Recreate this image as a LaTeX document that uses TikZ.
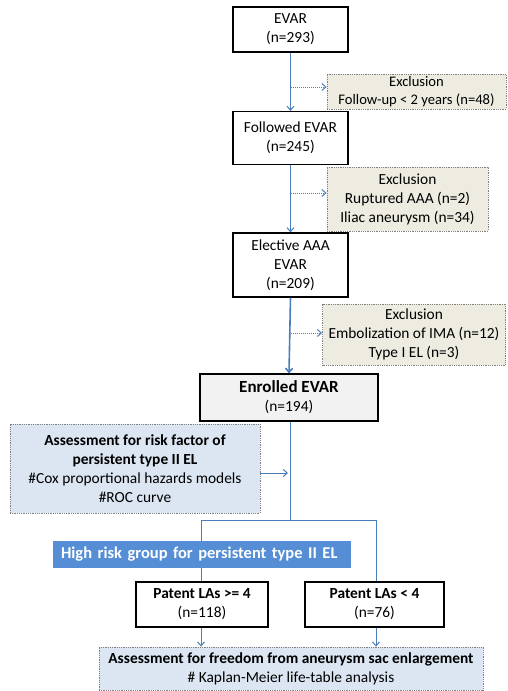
\documentclass[tikz,border=0pt]{standalone}
\usepackage{fontspec}
\setmainfont{Carlito}
\usetikzlibrary{arrows.meta}
\definecolor{ln}{HTML}{4A7EBB}
\definecolor{beige}{HTML}{EEECE1}
\definecolor{lblue}{HTML}{DCE6F2}
\definecolor{band}{HTML}{558ED5}
\tikzset{
  box/.style={draw=black, line width=1.2pt, fill=white, align=center, inner sep=0pt, font=\fontsize{15.4}{19}\selectfont},
  excl/.style={draw=gray, densely dotted, line width=0.8pt, fill=beige, align=center, inner sep=0pt, font=\fontsize{15.4}{19}\selectfont},
  bluebox/.style={draw=gray, densely dotted, line width=0.8pt, fill=lblue, align=center, inner sep=0pt, font=\fontsize{15.4}{19}\selectfont},
  conn/.style={draw=ln, line width=1pt, -{Straight Barb[length=4pt,width=7pt]}},
  dconn/.style={draw=ln, line width=1pt, densely dotted, -{Straight Barb[length=4pt,width=7pt]}},
  plain/.style={draw=ln, line width=1pt},
}
\begin{document}
\begin{tikzpicture}[x=1pt,y=-1pt]
\fill[white] (0,0) rectangle (507,691);
\useasboundingbox (0,0) rectangle (507,691);
% main column
\node[box, minimum width=115pt, minimum height=45pt] (evar) at (290.5,29.5) {EVAR\\(n=293)};
\node[box, minimum width=115pt, minimum height=53pt] (fol) at (290.5,138) {Followed EVAR\\(n=245)};
\node[box, minimum width=115pt, minimum height=64pt] (ele) at (290.5,265) {Elective AAA\\EVAR\\(n=209)};
\node[box, fill=black!5, minimum width=178pt, minimum height=47pt] (enr) at (289,397.5) {{\fontsize{17}{21}\selectfont\bfseries Enrolled EVAR}\\(n=194)};
% exclusions
\node[excl, font=\fontsize{14.6}{18}\selectfont, minimum width=179pt, minimum height=35pt] (ex1) at (416.5,91.5) {Exclusion\\Follow-up < 2 years (n=48)};
\node[excl, minimum width=161pt, minimum height=64pt] (ex2) at (407.5,199) {Exclusion\\Ruptured AAA (n=2)\\Iliac aneurysm (n=34)};
\node[excl, minimum width=183pt, minimum height=61pt] (ex3) at (414,334.5) {Exclusion\\Embolization of IMA (n=12)\\Type I EL (n=3)};
% main arrows
\draw[conn] (evar.south) -- (fol.north);
\draw[conn] (fol.south) -- (ele.north);
\draw[conn, line width=1.6pt] (ele.south) -- (enr.north);
\coordinate (d1) at (291,87);
\coordinate (d2) at (291,193);
\coordinate (d3) at (291,333);
\draw[dconn] (d1) -- (ex1.west |- d1);
\draw[dconn] (d2) -- (ex2.west |- d2);
\draw[dconn] (d3) -- (ex3.west |- d3);
% assessment
\node[bluebox, minimum width=250pt, minimum height=89pt] (as1) at (135,468.5) {{\bfseries Assessment for risk factor of}\\{\bfseries persistent type II EL}\\\#Cox proportional hazards models\\\#ROC curve};
\coordinate (sp) at (290,520);
\coordinate (spl) at (201,520);
\coordinate (spr) at (376,520);
\draw[plain] (enr.south -| sp) -- (sp);
\draw[plain] (spl) -- (spr);
\coordinate (ain) at (288,473);
\draw[conn] (as1.east |- ain) -- (ain);
% patent boxes
\node[box, minimum width=132pt, minimum height=45pt] (p1) at (202,604.5) {{\bfseries Patent LAs >= 4}\\(n=118)};
\node[box, minimum width=139pt, minimum height=45pt] (p2) at (374.5,604.5) {{\bfseries Patent LAs < 4}\\(n=76)};
\draw[plain] (spl) -- (spl |- p1.north);
\draw[plain] (spr) -- (spr |- p2.north);
\node[fill=band, text=white, minimum width=298pt, minimum height=27pt, inner sep=0pt, font=\fontsize{16.5}{20}\selectfont\bfseries, text width=282pt, align=left] (band) at (202,554.5) {High risk group for persistent type II EL};
% bottom
\node[bluebox, minimum width=384pt, minimum height=43pt] (as2) at (291,668.5) {{\bfseries Assessment for freedom from aneurysm sac enlargement}\\\# Kaplan-Meier life-table analysis};
\draw[conn] (p1.south -| spl) -- (as2.north -| spl);
\draw[conn] (p2.south -| spr) -- (as2.north -| spr);
\end{tikzpicture}
\end{document}
